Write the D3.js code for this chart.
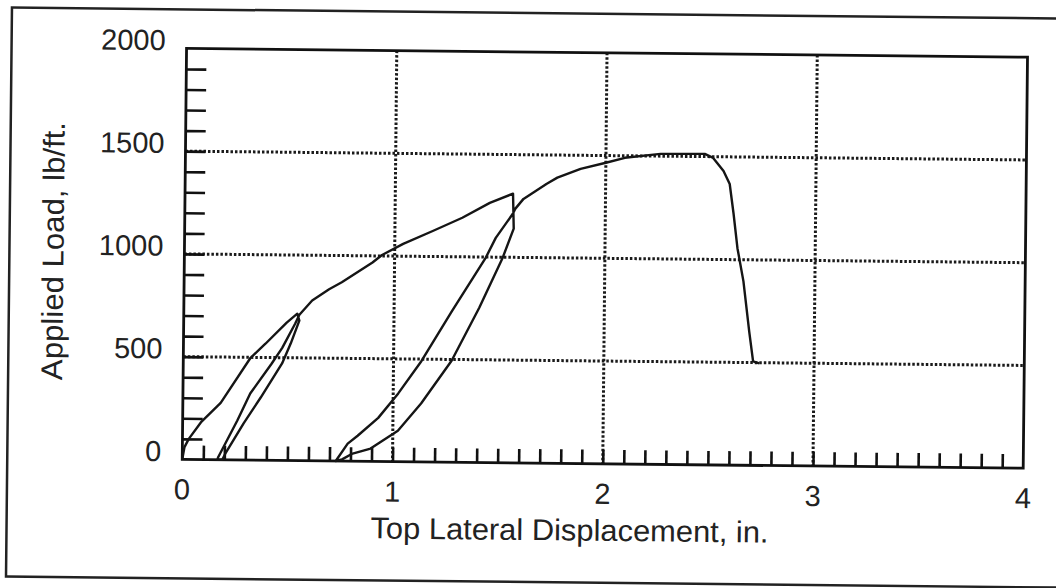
<!DOCTYPE html>
<html>
<head>
<meta charset="utf-8">
<script src="https://cdn.jsdelivr.net/npm/d3@7"></script>
<style>
  body { margin: 0; background: #fff; }
  text { font-family: "Liberation Sans", Arial, sans-serif; fill: #222; }
</style>
</head>
<body>
<svg width="1056" height="588"></svg>
<script>
// load vs displacement record
var xTicks = [0, 1, 2, 3, 4];
var yTicks = [0, 500, 1000, 1500, 2000];

// first loading up to ~700 lb/ft
var initialLoading = [[0, 0], [0.01, 60], [0.03, 100], [0.09, 185], [0.18, 277], [0.32, 498], [0.39, 567], [0.49, 671], [0.54, 715]];
// first unload / reload loop
var loop1Unload = [[0.55, 681], [0.51, 569], [0.47, 472], [0.37, 305], [0.29, 178], [0.205, 31], [0.19, 0], [0.167, 0]];
var loop1Reload = [[0.17, 11], [0.26, 192], [0.32, 324], [0.42, 470], [0.47, 548], [0.53, 666], [0.55, 710]];
// backbone to second peak
var backbone1 = [[0.61, 780], [0.69, 835], [0.75, 870], [0.895, 968], [0.94, 1005], [1.04, 1060], [1.18, 1124], [1.32, 1190], [1.45, 1264], [1.56, 1310], [1.565, 1140]];
// second loop
var loop2Unload = [[1.514, 998], [1.405, 753], [1.276, 494], [1.133, 284], [1.024, 150], [0.895, 62], [0.81, 37], [0.76, 8], [0.73, 0]];
var loop2Reload = [[0.786, 85], [0.833, 124], [0.93, 212], [1.024, 332], [1.133, 491], [1.276, 736], [1.433, 996], [1.48, 1094], [1.56, 1212]];
// final loading to failure
var backbone2 = [[1.571, 1236], [1.61, 1285], [1.72, 1360], [1.77, 1390], [1.88, 1434], [2.0, 1465], [2.09, 1490], [2.26, 1511], [2.47, 1513], [2.51, 1494], [2.56, 1431], [2.59, 1368], [2.61, 1222], [2.63, 1056], [2.66, 896], [2.69, 652], [2.71, 506], [2.74, 497]];

var svg = d3.select('svg');
var svgWidth = +svg.attr('width');
var svgHeight = +svg.attr('height');

svg.append('rect').attr('width', svgWidth).attr('height', svgHeight).attr('fill', '#fff');

// the scan is tilted a little, so tilt the whole drawing too
var g = svg.append('g').attr('transform', 'rotate(0.6,528,294)');

// outer frame of the figure
g.append('rect')
    .attr('x', 9).attr('y', 13)
    .attr('width', 1100).attr('height', 569)
    .attr('fill', 'none').attr('stroke', '#222').attr('stroke-width', 2.5);

var plot = {l: 184, r: 1025, t: 52, b: 463};

var xScale = d3.scaleLinear().domain([0, 4]).range([plot.l, plot.r]);
var yScale = d3.scaleLinear().domain([0, 2000]).range([plot.b, plot.t]);

// dotted grid
g.selectAll('.hgrid')
    .data(yTicks.filter(d => d > 0 && d < 2000))
    .enter().append('line')
    .attr('class', 'hgrid')
    .attr('x1', plot.l).attr('x2', plot.r)
    .attr('y1', d => yScale(d)).attr('y2', d => yScale(d))
    .attr('stroke', '#1a1a1a').attr('stroke-width', 3).attr('stroke-dasharray', '2.5,2');

g.selectAll('.vgrid')
    .data(xTicks.filter(d => d > 0 && d < 4))
    .enter().append('line')
    .attr('class', 'vgrid')
    .attr('y1', plot.t).attr('y2', plot.b)
    .attr('x1', d => xScale(d)).attr('x2', d => xScale(d))
    .attr('stroke', '#1a1a1a').attr('stroke-width', 3).attr('stroke-dasharray', '2.5,2');

// inward minor ticks: every 100 lb/ft on the left, every 0.1 in. along the bottom
var yAxis = d3.axisRight(yScale).tickValues(d3.range(100, 2000, 100)).tickSize(20).tickFormat('');
var xAxis = d3.axisTop(xScale).tickValues(d3.range(1, 40).map(d => d / 10)).tickSize(14).tickFormat('');

g.append('g').attr('class', 'y axis')
    .attr('transform', 'translate(' + plot.l + ',0)')
    .call(yAxis)
    .call(s => s.select('.domain').remove());

g.append('g').attr('class', 'x axis')
    .attr('transform', 'translate(0,' + plot.b + ')')
    .call(xAxis)
    .call(s => s.select('.domain').remove());

g.selectAll('.axis line').attr('stroke', '#111').attr('stroke-width', 2.6);

// plot border
g.append('rect')
    .attr('x', plot.l).attr('y', plot.t)
    .attr('width', plot.r - plot.l).attr('height', plot.b - plot.t)
    .attr('fill', 'none').attr('stroke', '#111').attr('stroke-width', 2.8);

// tick labels
g.selectAll('.ylab')
    .data(yTicks)
    .enter().append('text')
    .attr('class', 'ylab')
    .attr('x', plot.l - 21)
    .attr('y', d => yScale(d) + 2)
    .attr('text-anchor', 'end')
    .style('font-size', '29px')
    .text(d => d);

g.selectAll('.xlab')
    .data(xTicks)
    .enter().append('text')
    .attr('class', 'xlab')
    .attr('x', d => xScale(d))
    .attr('y', plot.b + 40)
    .attr('text-anchor', 'middle')
    .style('font-size', '29px')
    .text(d => d);

// axis titles
g.append('text')
    .attr('x', 572).attr('y', 540)
    .attr('text-anchor', 'middle')
    .attr('textLength', 398).attr('lengthAdjust', 'spacingAndGlyphs')
    .style('font-size', '30px')
    .text('Top Lateral Displacement, in.');

g.append('text')
    .attr('transform', 'translate(63,256) rotate(-90)')
    .attr('text-anchor', 'middle')
    .attr('textLength', 258).attr('lengthAdjust', 'spacingAndGlyphs')
    .style('font-size', '30px')
    .text('Applied Load, lb/ft.');

// the load path, drawn as one continuous trace
var trace = [].concat(initialLoading, loop1Unload, loop1Reload, backbone1, loop2Unload, loop2Reload, backbone2);

var line = d3.line().x(d => xScale(d[0])).y(d => yScale(d[1]));

g.append('path')
    .attr('class', 'line-plot')
    .attr('d', line(trace))
    .attr('fill', 'none')
    .attr('stroke', '#151515')
    .attr('stroke-width', 2.4)
    .attr('stroke-linejoin', 'round');
</script>
</body>
</html>
